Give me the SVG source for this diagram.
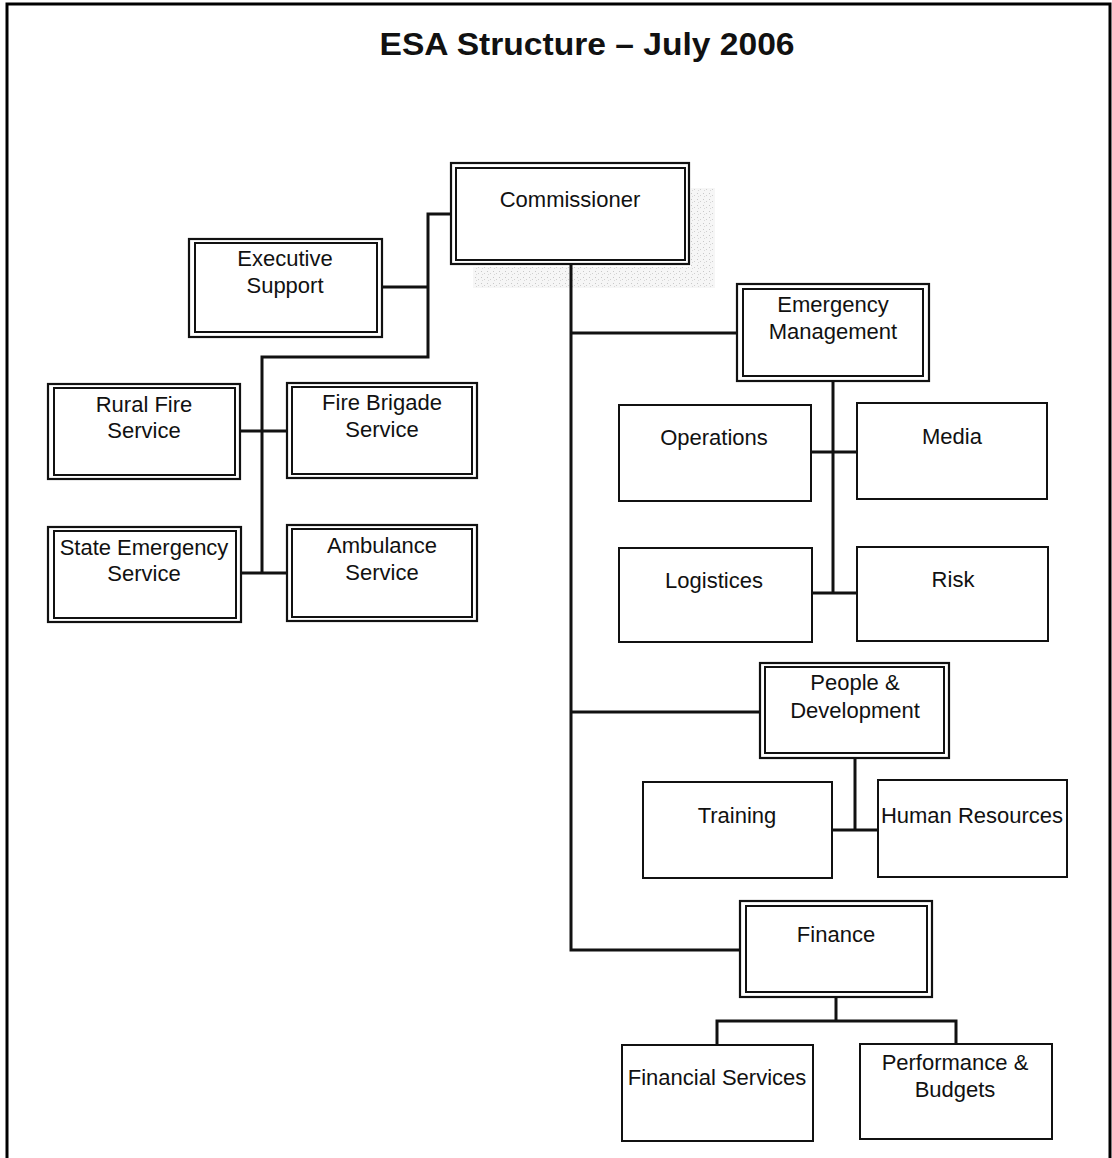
<svg xmlns="http://www.w3.org/2000/svg" width="1112" height="1158" viewBox="0 0 1112 1158">
<defs>
<pattern id="stip" width="6" height="6" patternUnits="userSpaceOnUse">
<rect width="6" height="6" fill="#f6f6f6"/>
<rect x="1" y="1" width="1" height="1" fill="#c8c8c8"/>
<rect x="4" y="3" width="1" height="1" fill="#d0d0d0"/>
<rect x="2" y="4" width="1" height="1" fill="#d8d8d8"/>
</pattern>
</defs>
<style>
.o{fill:#fff;stroke:#111;stroke-width:2.2}
.i{fill:none;stroke:#111;stroke-width:2}
.s{fill:#fff;stroke:#111;stroke-width:2}
.t{font-family:"Liberation Sans",Arial,sans-serif;font-size:22px;fill:#111;text-anchor:middle}
.c{fill:none;stroke:#111;stroke-width:3}
</style>
<rect width="1112" height="1158" fill="#fff"/>
<path d="M7,1158 V4 H1110 V1158" fill="none" stroke="#000" stroke-width="3"/>
<text x="587" y="55" font-family="Liberation Sans,Arial,sans-serif" font-weight="bold" font-size="32" fill="#111" text-anchor="middle" textLength="415" lengthAdjust="spacingAndGlyphs">ESA Structure – July 2006</text>

<g id="shadow">
<rect x="691" y="188" width="24" height="100" fill="url(#stip)"/>
<rect x="473" y="267" width="242" height="21" fill="url(#stip)"/>
</g>

<g id="connectors">
<path class="c" d="M451,214 H428 V357 H262 V573"/>
<path class="c" d="M382,287 H428"/>
<path class="c" d="M240,431 H287"/>
<path class="c" d="M241,573 H287"/>
<path class="c" d="M571,264 V950 H740"/>
<path class="c" d="M571,333 H737"/>
<path class="c" d="M571,712 H760"/>
<path class="c" d="M833,381 V593"/>
<path class="c" d="M811,452 H857"/>
<path class="c" d="M812,593 H857"/>
<path class="c" d="M855,758 V830"/>
<path class="c" d="M832,830 H878"/>
<path class="c" d="M836,997 V1021"/>
<path class="c" d="M717,1045 V1021 H956 V1044"/>
</g>

<g id="commissioner">
<rect class="o" x="451" y="163" width="238" height="101"/>
<rect class="i" x="456" y="168" width="229" height="92"/>
<text class="t" x="570" y="207">Commissioner</text>
</g>
<g id="executive-support">
<rect class="o" x="189" y="239" width="193" height="98"/>
<rect class="i" x="195" y="243" width="182" height="89"/>
<text class="t" x="285" y="266">Executive</text>
<text class="t" x="285" y="293">Support</text>
</g>
<g id="rural-fire">
<rect class="o" x="48" y="384" width="192" height="95"/>
<rect class="i" x="54" y="388" width="181" height="87"/>
<text class="t" x="144" y="412">Rural Fire</text>
<text class="t" x="144" y="438">Service</text>
</g>
<g id="fire-brigade">
<rect class="o" x="287" y="383" width="190" height="95"/>
<rect class="i" x="292" y="387" width="180" height="87"/>
<text class="t" x="382" y="410">Fire Brigade</text>
<text class="t" x="382" y="437">Service</text>
</g>
<g id="state-emergency">
<rect class="o" x="48" y="527" width="193" height="95"/>
<rect class="i" x="54" y="531" width="182" height="87"/>
<text class="t" x="144" y="555">State Emergency</text>
<text class="t" x="144" y="581">Service</text>
</g>
<g id="ambulance">
<rect class="o" x="287" y="525" width="190" height="96"/>
<rect class="i" x="292" y="529" width="180" height="88"/>
<text class="t" x="382" y="553">Ambulance</text>
<text class="t" x="382" y="580">Service</text>
</g>
<g id="emergency-management">
<rect class="o" x="737" y="284" width="192" height="97"/>
<rect class="i" x="743" y="289" width="180" height="87"/>
<text class="t" x="833" y="312">Emergency</text>
<text class="t" x="833" y="339">Management</text>
</g>
<g id="operations">
<rect class="s" x="619" y="405" width="192" height="96"/>
<text class="t" x="714" y="445">Operations</text>
</g>
<g id="media">
<rect class="s" x="857" y="403" width="190" height="96"/>
<text class="t" x="952" y="444">Media</text>
</g>
<g id="logistices">
<rect class="s" x="619" y="548" width="193" height="94"/>
<text class="t" x="714" y="588">Logistices</text>
</g>
<g id="risk">
<rect class="s" x="857" y="547" width="191" height="94"/>
<text class="t" x="953" y="587">Risk</text>
</g>
<g id="people-development">
<rect class="o" x="760" y="663" width="189" height="95"/>
<rect class="i" x="765" y="667" width="179" height="86"/>
<text class="t" x="855" y="690">People &amp;</text>
<text class="t" x="855" y="718">Development</text>
</g>
<g id="training">
<rect class="s" x="643" y="782" width="189" height="96"/>
<text class="t" x="737" y="823">Training</text>
</g>
<g id="human-resources">
<rect class="s" x="878" y="780" width="189" height="97"/>
<text class="t" x="972" y="823">Human Resources</text>
</g>
<g id="finance">
<rect class="o" x="740" y="901" width="192" height="96"/>
<rect class="i" x="746" y="906" width="181" height="86"/>
<text class="t" x="836" y="942">Finance</text>
</g>
<g id="financial-services">
<rect class="s" x="622" y="1045" width="191" height="96"/>
<text class="t" x="717" y="1085">Financial Services</text>
</g>
<g id="performance-budgets">
<rect class="s" x="860" y="1044" width="192" height="95"/>
<text class="t" x="955" y="1070">Performance &amp;</text>
<text class="t" x="955" y="1097">Budgets</text>
</g>
</svg>
